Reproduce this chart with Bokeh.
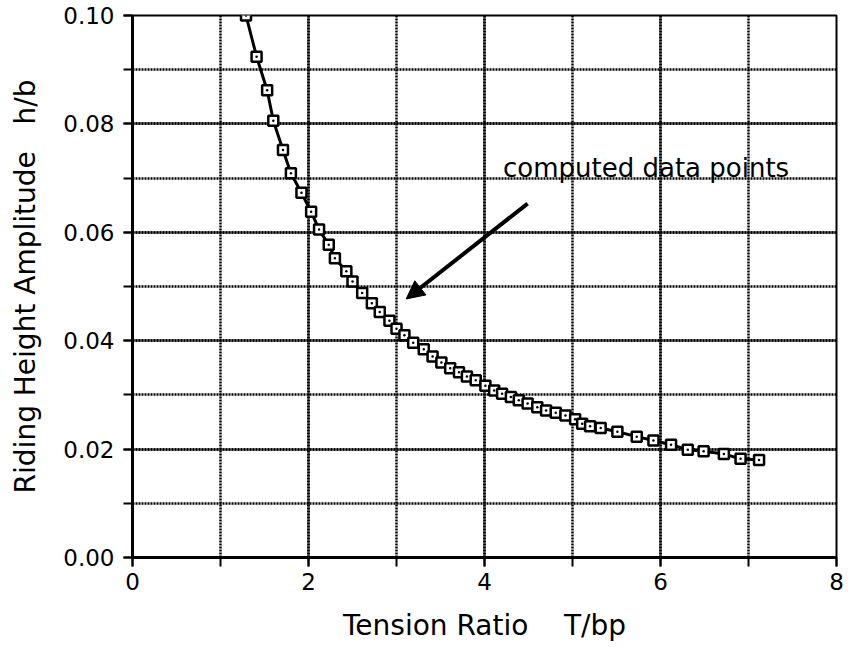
from bokeh.plotting import figure
from bokeh.models import Range1d, SingleIntervalTicker, NumeralTickFormatter, Arrow, NormalHead, Label
from bokeh.embed import file_html
from bokeh.resources import INLINE

# Data
tension_ratio = [1.29, 1.41, 1.53, 1.60, 1.71, 1.80, 1.92, 2.03, 2.12, 2.23,
                 2.30, 2.43, 2.50, 2.61, 2.72, 2.81, 2.92, 3.00, 3.09, 3.19,
                 3.31, 3.41, 3.51, 3.61, 3.71, 3.80, 3.90, 4.01, 4.11, 4.20,
                 4.30, 4.39, 4.49, 4.60, 4.70, 4.81, 4.92, 5.03, 5.11, 5.20,
                 5.32, 5.51, 5.73, 5.92, 6.12, 6.31, 6.49, 6.72, 6.91, 7.12]
amplitude = [0.1000, 0.0924, 0.0862, 0.0806, 0.0752, 0.0709, 0.0673, 0.0638, 0.0605, 0.0577,
             0.0552, 0.0528, 0.0509, 0.0488, 0.0469, 0.0453, 0.0437, 0.0422, 0.0410, 0.0396,
             0.0384, 0.0371, 0.0360, 0.0349, 0.0342, 0.0334, 0.0327, 0.0317, 0.0308, 0.0302,
             0.0296, 0.0290, 0.0284, 0.0277, 0.0271, 0.0267, 0.0262, 0.0255, 0.0247, 0.0242,
             0.0239, 0.0232, 0.0223, 0.0216, 0.0208, 0.0199, 0.0196, 0.0191, 0.0182, 0.0180]

NB = "\u00a0"
x_label = "Tension Ratio" + NB * 4 + "T/bp"
y_label = "Riding Height Amplitude" + NB * 3 + "h/b"
note_text = "computed data points"
note_pos = (4.21, 0.0747)
arrow_start = (4.49, 0.0653)
arrow_end = (3.11, 0.0477)

FONT = "DejaVu Sans"

p = figure(width=846, height=646, output_backend="svg", toolbar_location=None,
           x_range=Range1d(0, 8), y_range=Range1d(0, 0.10),
           min_border_left=132, min_border_right=10, min_border_top=15, min_border_bottom=89)
p.background_fill_color = "white"
p.border_fill_color = "white"
p.outline_line_color = "black"
p.outline_line_width = 2

p.xaxis.ticker = SingleIntervalTicker(interval=2, num_minor_ticks=2)
p.yaxis.ticker = SingleIntervalTicker(interval=0.02, num_minor_ticks=2)
p.yaxis.formatter = NumeralTickFormatter(format="0.00")

for ax in (p.xaxis, p.yaxis):
    ax.axis_line_color = "black"
    ax.axis_line_width = 3
    ax.major_tick_line_color = "black"
    ax.minor_tick_line_color = "black"
    ax.major_tick_line_width = 2
    ax.minor_tick_line_width = 2
    ax.major_tick_in = 0
    ax.minor_tick_in = 0
    ax.major_tick_out = 9
    ax.minor_tick_out = 9
    ax.major_label_text_font = FONT
    ax.major_label_text_font_size = "23px"
    ax.major_label_text_color = "black"
    ax.axis_label_text_font = FONT
    ax.axis_label_text_font_size = "28px"
    ax.axis_label_text_font_style = "normal"
    ax.axis_label_text_color = "black"

p.xaxis.axis_label = x_label
p.yaxis.axis_label = y_label
p.xaxis.major_label_standoff = 6
p.yaxis.major_label_standoff = 9
p.xaxis.axis_label_standoff = 16
p.yaxis.axis_label_standoff = 18

for g in (p.xgrid, p.ygrid):
    g.grid_line_color = "black"
    g.grid_line_width = 2.5
    g.grid_line_dash = "2 1"
    g.grid_line_alpha = 1
    g.minor_grid_line_color = "black"
    g.minor_grid_line_width = 2.5
    g.minor_grid_line_dash = "2 1"
    g.minor_grid_line_alpha = 1

p.line(tension_ratio, amplitude, line_color="black", line_width=3)
p.scatter(tension_ratio, amplitude, marker="square_dot", size=10,
          line_color="black", line_width=2.5, fill_color="white")

p.add_layout(Arrow(end=NormalHead(size=18, fill_color="black", line_color="black"),
                   x_start=arrow_start[0], y_start=arrow_start[1],
                   x_end=arrow_end[0], y_end=arrow_end[1],
                   line_color="black", line_width=4))
p.add_layout(Label(x=note_pos[0], y=note_pos[1], text=note_text,
                   text_font=FONT, text_font_size="26px", text_color="black",
                   text_baseline="top"))

open("out.html", "w").write(file_html(p, INLINE))
